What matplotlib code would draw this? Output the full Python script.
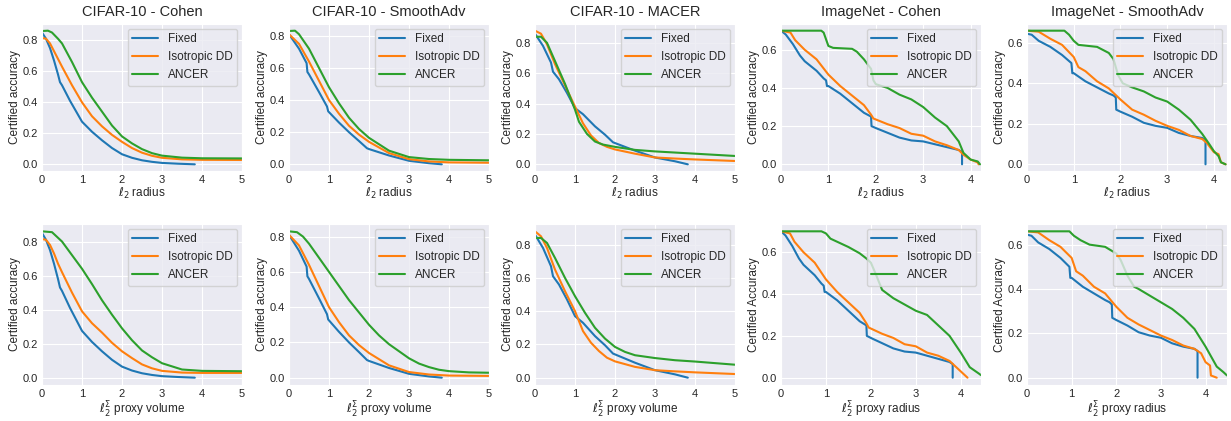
import matplotlib
matplotlib.use("Agg")
import matplotlib.pyplot as plt
import seaborn as sns

sns.set_style("darkgrid")
plt.rcParams['font.family'] = ['Liberation Sans', 'DejaVu Sans']

methods = ["Fixed", "Isotropic DD", "ANCER"]
colors = ["#1f77b4", "#ff7f0e", "#2ca02c"]

# ---- CIFAR-10 Cohen ----
c10_cohen_fixed_x = [0, 0.1, 0.2, 0.3, 0.4, 0.45, 0.5, 0.7, 1.0, 1.25, 1.5, 1.75, 2.0, 2.25, 2.5, 2.75, 3.0, 3.4, 3.82]
c10_cohen_fixed_y = [0.85, 0.81, 0.75, 0.67, 0.58, 0.53, 0.51, 0.41, 0.275, 0.21, 0.155, 0.105, 0.065, 0.042, 0.026, 0.016, 0.009, 0.004, 0.0]
c10_cohen_iso_x = [0, 0.1, 0.2, 0.3, 0.4, 0.5, 0.75, 1.0, 1.25, 1.5, 1.75, 2.0, 2.25, 2.5, 2.75, 3.0, 3.5, 4.0, 5.0]
c10_cohen_iso_y = [0.815, 0.81, 0.78, 0.73, 0.68, 0.63, 0.51, 0.40, 0.31, 0.245, 0.19, 0.145, 0.105, 0.075, 0.055, 0.042, 0.032, 0.029, 0.028]
c10_cohen_ancer_x = [0, 0.15, 0.25, 0.4, 0.5, 0.75, 1.0, 1.25, 1.5, 1.75, 2.0, 2.25, 2.5, 2.75, 3.0, 3.5, 4.0, 5.0]
c10_cohen_ancer_y = [0.86, 0.862, 0.85, 0.81, 0.78, 0.66, 0.53, 0.43, 0.34, 0.25, 0.18, 0.135, 0.098, 0.072, 0.056, 0.043, 0.039, 0.038]
c10_cohen_iso_vol_x = [0, 0.1, 0.2, 0.3, 0.4, 0.5, 0.75, 1.0, 1.25, 1.5, 1.75, 2.0, 2.25, 2.5, 2.75, 3.0, 3.5, 4.0, 5.0]
c10_cohen_iso_vol_y = [0.815, 0.81, 0.78, 0.73, 0.67, 0.62, 0.50, 0.39, 0.32, 0.265, 0.205, 0.155, 0.115, 0.078, 0.055, 0.04, 0.03, 0.028, 0.028]
c10_cohen_ancer_vol_x = [0, 0.25, 0.5, 0.75, 1.0, 1.25, 1.5, 1.75, 2.0, 2.25, 2.5, 2.75, 3.0, 3.5, 4.0, 5.0]
c10_cohen_ancer_vol_y = [0.86, 0.855, 0.80, 0.72, 0.64, 0.55, 0.455, 0.37, 0.29, 0.22, 0.16, 0.12, 0.085, 0.048, 0.04, 0.038]

# ---- CIFAR-10 SmoothAdv ----
c10_sadv_fixed_x = [0, 0.25, 0.44, 0.46, 0.5, 0.75, 0.95, 0.98, 1.25, 1.5, 1.75, 1.95, 2.0, 2.5, 3.0, 3.5, 3.82]
c10_sadv_fixed_y = [0.81, 0.72, 0.63, 0.575, 0.56, 0.45, 0.36, 0.33, 0.26, 0.2, 0.145, 0.1, 0.095, 0.055, 0.022, 0.007, 0.0]
c10_sadv_iso_x = [0, 0.25, 0.5, 0.75, 1.0, 1.25, 1.5, 1.75, 2.0, 2.5, 3.0, 3.5, 4.0, 5.0]
c10_sadv_iso_y = [0.81, 0.75, 0.64, 0.52, 0.40, 0.315, 0.24, 0.185, 0.14, 0.07, 0.032, 0.018, 0.012, 0.01]
c10_sadv_ancer_x = [0, 0.15, 0.25, 0.5, 0.75, 1.0, 1.25, 1.5, 1.75, 2.0, 2.5, 3.0, 3.5, 4.0, 5.0]
c10_sadv_ancer_y = [0.83, 0.832, 0.81, 0.72, 0.60, 0.48, 0.38, 0.29, 0.22, 0.165, 0.085, 0.045, 0.033, 0.028, 0.025]
c10_sadv_ancer_vol_x = [0, 0.2, 0.35, 0.5, 0.75, 1.0, 1.25, 1.5, 1.75, 2.0, 2.25, 2.5, 2.75, 3.0, 3.25, 3.5, 3.75, 4.0, 4.5, 5.0]
c10_sadv_ancer_vol_y = [0.83, 0.825, 0.80, 0.76, 0.68, 0.60, 0.52, 0.44, 0.37, 0.30, 0.24, 0.19, 0.15, 0.11, 0.08, 0.06, 0.045, 0.037, 0.03, 0.028]

# ---- CIFAR-10 MACER ----
c10_macer_fixed_x = [0, 0.2, 0.4, 0.45, 0.6, 0.8, 1.0, 1.2, 1.5, 1.75, 1.95, 2.0, 2.5, 3.0, 3.5, 3.82]
c10_macer_fixed_y = [0.86, 0.78, 0.67, 0.61, 0.56, 0.47, 0.37, 0.33, 0.25, 0.195, 0.145, 0.14, 0.09, 0.045, 0.02, 0.0]
c10_macer_iso_x = [0, 0.15, 0.3, 0.5, 0.75, 1.0, 1.2, 1.4, 1.6, 1.8, 2.0, 2.5, 3.0, 3.5, 4.0, 5.0]
c10_macer_iso_y = [0.88, 0.86, 0.79, 0.66, 0.52, 0.38, 0.27, 0.19, 0.14, 0.115, 0.098, 0.07, 0.045, 0.038, 0.032, 0.022]
c10_macer_ancer_x = [0, 0.15, 0.3, 0.5, 0.75, 1.0, 1.1, 1.3, 1.5, 1.7, 2.0, 2.5, 3.0, 4.0, 5.0]
c10_macer_ancer_y = [0.84, 0.84, 0.80, 0.68, 0.53, 0.36, 0.28, 0.20, 0.15, 0.13, 0.115, 0.095, 0.085, 0.07, 0.055]
c10_macer_iso_vol_x = [0, 0.15, 0.3, 0.5, 0.75, 1.0, 1.1, 1.2, 1.4, 1.6, 1.8, 2.0, 2.5, 3.0, 3.5, 4.0, 5.0]
c10_macer_iso_vol_y = [0.88, 0.85, 0.78, 0.65, 0.52, 0.40, 0.34, 0.28, 0.21, 0.16, 0.12, 0.098, 0.065, 0.045, 0.038, 0.032, 0.022]
c10_macer_ancer_vol_x = [0, 0.15, 0.3, 0.5, 0.75, 1.0, 1.25, 1.5, 1.75, 2.0, 2.25, 2.5, 3.0, 3.5, 4.0, 5.0]
c10_macer_ancer_vol_y = [0.84, 0.84, 0.81, 0.72, 0.60, 0.49, 0.39, 0.30, 0.235, 0.185, 0.155, 0.135, 0.118, 0.105, 0.097, 0.078]

# ---- ImageNet Cohen ----
in_cohen_fixed_x = [0, 0.1, 0.25, 0.4, 0.5, 0.75, 0.9, 0.95, 0.97, 1.0, 1.25, 1.5, 1.75, 1.9, 1.91, 2.0, 2.25, 2.5, 2.75, 3.0, 3.25, 3.5, 3.75, 3.82, 3.82]
in_cohen_fixed_y = [0.70, 0.68, 0.63, 0.57, 0.54, 0.49, 0.45, 0.44, 0.41, 0.41, 0.37, 0.32, 0.27, 0.25, 0.20, 0.19, 0.165, 0.14, 0.125, 0.12, 0.105, 0.09, 0.075, 0.065, 0.0]
in_cohen_iso_x = [0, 0.2, 0.3, 0.5, 0.75, 1.0, 1.25, 1.5, 1.75, 1.9, 1.95, 2.0, 2.25, 2.5, 2.75, 3.0, 3.25, 3.5, 3.75, 3.85, 4.0, 4.15, 4.17]
in_cohen_iso_y = [0.70, 0.69, 0.65, 0.60, 0.55, 0.47, 0.41, 0.36, 0.31, 0.26, 0.24, 0.235, 0.21, 0.19, 0.16, 0.15, 0.12, 0.10, 0.075, 0.05, 0.025, 0.01, 0.0]
in_cohen_ancer_x = [0, 0.85, 0.9, 1.0, 1.1, 1.5, 1.6, 1.75, 1.9, 1.95, 2.0, 2.25, 2.5, 2.75, 3.0, 3.25, 3.5, 3.75, 3.85, 4.0, 4.15, 4.2]
in_cohen_ancer_y = [0.70, 0.70, 0.69, 0.62, 0.61, 0.605, 0.59, 0.55, 0.50, 0.44, 0.42, 0.40, 0.365, 0.34, 0.30, 0.245, 0.20, 0.12, 0.06, 0.025, 0.015, 0.0]
in_cohen_iso_prx_x = [0, 0.2, 0.3, 0.5, 0.75, 1.0, 1.25, 1.5, 1.75, 1.9, 1.95, 2.0, 2.25, 2.5, 2.75, 3.0, 3.25, 3.5, 3.75, 3.9, 4.05, 4.15]
in_cohen_iso_prx_y = [0.70, 0.69, 0.65, 0.60, 0.55, 0.47, 0.41, 0.36, 0.31, 0.26, 0.24, 0.235, 0.21, 0.19, 0.16, 0.15, 0.12, 0.105, 0.08, 0.05, 0.02, 0.0]
in_cohen_ancer_prx_x = [0, 0.9, 1.0, 1.1, 1.25, 1.5, 1.75, 1.9, 2.0, 2.1, 2.25, 2.5, 2.75, 3.0, 3.25, 3.5, 3.75, 4.0, 4.2, 4.4, 4.45]
in_cohen_ancer_prx_y = [0.70, 0.70, 0.69, 0.665, 0.65, 0.625, 0.595, 0.57, 0.55, 0.50, 0.42, 0.38, 0.35, 0.32, 0.30, 0.25, 0.20, 0.12, 0.05, 0.02, 0.012]

# ---- ImageNet SmoothAdv ----
in_sadv_fixed_x = [0, 0.1, 0.25, 0.5, 0.75, 0.9, 0.95, 0.97, 1.0, 1.25, 1.5, 1.75, 1.85, 1.9, 1.91, 2.0, 2.25, 2.5, 2.75, 3.0, 3.25, 3.5, 3.75, 3.82, 3.82]
in_sadv_fixed_y = [0.645, 0.64, 0.61, 0.58, 0.54, 0.51, 0.50, 0.45, 0.45, 0.41, 0.38, 0.35, 0.34, 0.33, 0.27, 0.26, 0.235, 0.205, 0.19, 0.18, 0.155, 0.14, 0.13, 0.12, 0.0]
in_sadv_iso_x = [0, 0.25, 0.5, 0.75, 1.0, 1.1, 1.25, 1.5, 1.75, 2.0, 2.25, 2.5, 2.75, 3.0, 3.25, 3.5, 3.75, 3.85, 4.0, 4.1, 4.15, 4.25]
in_sadv_iso_y = [0.66, 0.655, 0.62, 0.59, 0.53, 0.48, 0.46, 0.41, 0.375, 0.32, 0.27, 0.245, 0.215, 0.19, 0.17, 0.14, 0.125, 0.105, 0.06, 0.05, 0.01, 0.0]
in_sadv_ancer_x = [0, 0.8, 0.9, 1.0, 1.1, 1.5, 1.75, 1.85, 1.95, 2.05, 2.25, 2.5, 2.75, 3.0, 3.25, 3.5, 3.75, 3.9, 4.0, 4.1, 4.15, 4.25]
in_sadv_ancer_y = [0.66, 0.66, 0.64, 0.61, 0.59, 0.58, 0.55, 0.52, 0.44, 0.40, 0.38, 0.36, 0.33, 0.31, 0.27, 0.22, 0.15, 0.10, 0.065, 0.04, 0.01, 0.0]
in_sadv_iso_prx_x = [0, 0.25, 0.5, 0.75, 1.0, 1.1, 1.25, 1.5, 1.75, 2.0, 2.25, 2.5, 2.75, 3.0, 3.25, 3.5, 3.75, 3.9, 4.0, 4.1, 4.12, 4.25]
in_sadv_iso_prx_y = [0.66, 0.655, 0.62, 0.59, 0.54, 0.48, 0.46, 0.41, 0.38, 0.32, 0.27, 0.24, 0.215, 0.19, 0.17, 0.145, 0.13, 0.11, 0.07, 0.055, 0.01, 0.0]
in_sadv_ancer_prx_x = [0, 0.95, 1.05, 1.2, 1.4, 1.75, 2.0, 2.1, 2.25, 2.4, 2.5, 2.75, 3.0, 3.25, 3.5, 3.75, 4.0, 4.25, 4.4, 4.48]
in_sadv_ancer_prx_y = [0.66, 0.66, 0.64, 0.62, 0.60, 0.59, 0.56, 0.53, 0.46, 0.41, 0.40, 0.37, 0.34, 0.31, 0.27, 0.22, 0.14, 0.05, 0.025, 0.01]

titles = ["CIFAR-10 - Cohen", "CIFAR-10 - SmoothAdv", "CIFAR-10 - MACER", "ImageNet - Cohen", "ImageNet - SmoothAdv"]

top_curves = [
    [(c10_cohen_fixed_x, c10_cohen_fixed_y), (c10_cohen_iso_x, c10_cohen_iso_y), (c10_cohen_ancer_x, c10_cohen_ancer_y)],
    [(c10_sadv_fixed_x, c10_sadv_fixed_y), (c10_sadv_iso_x, c10_sadv_iso_y), (c10_sadv_ancer_x, c10_sadv_ancer_y)],
    [(c10_macer_fixed_x, c10_macer_fixed_y), (c10_macer_iso_x, c10_macer_iso_y), (c10_macer_ancer_x, c10_macer_ancer_y)],
    [(in_cohen_fixed_x, in_cohen_fixed_y), (in_cohen_iso_x, in_cohen_iso_y), (in_cohen_ancer_x, in_cohen_ancer_y)],
    [(in_sadv_fixed_x, in_sadv_fixed_y), (in_sadv_iso_x, in_sadv_iso_y), (in_sadv_ancer_x, in_sadv_ancer_y)],
]
bottom_curves = [
    [(c10_cohen_fixed_x, c10_cohen_fixed_y), (c10_cohen_iso_vol_x, c10_cohen_iso_vol_y), (c10_cohen_ancer_vol_x, c10_cohen_ancer_vol_y)],
    [(c10_sadv_fixed_x, c10_sadv_fixed_y), (c10_sadv_iso_x, c10_sadv_iso_y), (c10_sadv_ancer_vol_x, c10_sadv_ancer_vol_y)],
    [(c10_macer_fixed_x, c10_macer_fixed_y), (c10_macer_iso_vol_x, c10_macer_iso_vol_y), (c10_macer_ancer_vol_x, c10_macer_ancer_vol_y)],
    [(in_cohen_fixed_x, in_cohen_fixed_y), (in_cohen_iso_prx_x, in_cohen_iso_prx_y), (in_cohen_ancer_prx_x, in_cohen_ancer_prx_y)],
    [(in_sadv_fixed_x, in_sadv_fixed_y), (in_sadv_iso_prx_x, in_sadv_iso_prx_y), (in_sadv_ancer_prx_x, in_sadv_ancer_prx_y)],
]

top_xmax = [5, 5, 5, 4.22, 4.28]
bottom_xmax = [5, 5, 5, 4.45, 4.48]
bottom_xlabels = [r"$\ell_2^\Sigma$ proxy volume"] * 3 + [r"$\ell_2^\Sigma$ proxy radius"] * 2
bottom_ylabels = ["Certified accuracy"] * 3 + ["Certified Accuracy"] * 2

W, H = 1231, 421
fig = plt.figure(figsize=(W / 100, H / 100), dpi=100)
lefts = [42, 289, 535, 781, 1027]
aw = 200


def draw(ax, curves, xmax, xlabel, ylabel):
    for (xs, ys), name, c in zip(curves, methods, colors):
        ax.plot(xs, ys, color=c, lw=1.5, label=name)
    ax.set_xlim(0, xmax)
    ax.set_xlabel(xlabel, fontsize=8.5, labelpad=1)
    ax.set_ylabel(ylabel, fontsize=8.5, labelpad=1.5)
    ax.tick_params(labelsize=8, pad=2.8, length=0)
    ax.legend(loc="upper right", fontsize=8.5, handlelength=2.2, borderaxespad=0.4)


for i in range(5):
    ax = fig.add_axes([lefts[i] / W, 1 - 171 / H, aw / W, 147 / H])
    draw(ax, top_curves[i], top_xmax[i], r"$\ell_2$ radius", "Certified accuracy")
    ax.set_title(titles[i], fontsize=10.5, pad=6)

    ax = fig.add_axes([lefts[i] / W, 1 - 385 / H, aw / W, 161 / H])
    draw(ax, bottom_curves[i], bottom_xmax[i], bottom_xlabels[i], bottom_ylabels[i])

fig.savefig("out.png", dpi=100)
